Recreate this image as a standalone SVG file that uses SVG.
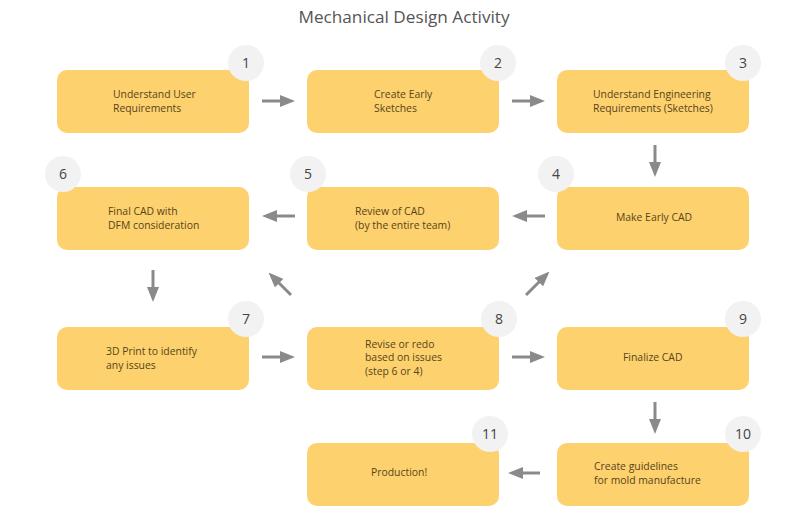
<svg xmlns="http://www.w3.org/2000/svg" width="800" height="523" viewBox="0 0 800 523">
<style>
.box{fill:#fdd16e;}
.num{fill:#f2f2f2;}
.t{font-family:"Open Sans","Noto Sans",sans-serif;font-size:10.4px;font-weight:500;fill:#574519;}
.n{font-family:"Open Sans","Noto Sans",sans-serif;font-size:14px;fill:#444;text-anchor:middle;}
.title{font-family:"Open Sans","Noto Sans",sans-serif;font-size:17.2px;fill:#555;text-anchor:middle;}
.c{stroke:#8a8a8a;stroke-width:3;fill:none;marker-end:url(#ah);}
</style>
<defs>
<marker id="ah" markerWidth="5" markerHeight="4" refX="1" refY="2" orient="auto" markerUnits="strokeWidth">
<path d="M0,0 L5,2 L0,4 z" fill="#8a8a8a"/>
</marker>
</defs>
<rect width="800" height="523" fill="#fff"/>
<text class="title" x="404" y="23">Mechanical Design Activity</text>
<g id="connectors">
<line class="c" x1="262" y1="101" x2="283" y2="101"/>
<line class="c" x1="512" y1="101" x2="533" y2="101"/>
<line class="c" x1="655" y1="145" x2="655" y2="165"/>
<line class="c" x1="545" y1="216" x2="524" y2="216"/>
<line class="c" x1="295" y1="216" x2="274" y2="216"/>
<line class="c" x1="153" y1="270" x2="153" y2="290"/>
<line class="c" x1="262" y1="357" x2="283" y2="357"/>
<line class="c" x1="512" y1="357" x2="533" y2="357"/>
<line class="c" x1="291" y1="295" x2="277" y2="281"/>
<line class="c" x1="526" y1="295" x2="541" y2="280"/>
<line class="c" x1="655" y1="402" x2="655" y2="422"/>
<line class="c" x1="540" y1="473" x2="520" y2="473"/>
</g>
<g id="node1"><rect class="box" x="57" y="70" width="192" height="63" rx="10"/><circle class="num" cx="246" cy="63" r="18"/><text class="n" x="246" y="68">1</text><text class="t" x="113" y="98">Understand User</text><text class="t" x="113" y="111.5">Requirements</text></g>
<g id="node2"><rect class="box" x="307" y="70" width="192" height="63" rx="10"/><circle class="num" cx="498" cy="63" r="18"/><text class="n" x="498" y="68">2</text><text class="t" x="374" y="98">Create Early</text><text class="t" x="374" y="111.5">Sketches</text></g>
<g id="node3"><rect class="box" x="557" y="70" width="192" height="63" rx="10"/><circle class="num" cx="743" cy="63" r="18"/><text class="n" x="743" y="68">3</text><text class="t" x="593" y="98">Understand Engineering</text><text class="t" x="593" y="111.5">Requirements (Sketches)</text></g>
<g id="node4"><rect class="box" x="557" y="187" width="192" height="63" rx="10"/><circle class="num" cx="556" cy="174" r="18"/><text class="n" x="556" y="179">4</text><text class="t" x="616" y="221">Make Early CAD</text></g>
<g id="node5"><rect class="box" x="307" y="187" width="192" height="63" rx="10"/><circle class="num" cx="308" cy="174" r="18"/><text class="n" x="308" y="179">5</text><text class="t" x="355" y="215">Review of CAD</text><text class="t" x="355" y="228.5">(by the entire team)</text></g>
<g id="node6"><rect class="box" x="57" y="187" width="192" height="63" rx="10"/><circle class="num" cx="63" cy="174" r="18"/><text class="n" x="63" y="179">6</text><text class="t" x="108" y="215">Final CAD with</text><text class="t" x="108" y="228.5">DFM consideration</text></g>
<g id="node7"><rect class="box" x="57" y="327" width="192" height="63" rx="10"/><circle class="num" cx="246" cy="319" r="18"/><text class="n" x="246" y="324">7</text><text class="t" x="106" y="355">3D Print to identify</text><text class="t" x="106" y="368.5">any issues</text></g>
<g id="node8"><rect class="box" x="307" y="327" width="192" height="63" rx="10"/><circle class="num" cx="499" cy="319" r="18"/><text class="n" x="499" y="324">8</text><text class="t" x="365" y="347.5">Revise or redo</text><text class="t" x="365" y="361">based on issues</text><text class="t" x="365" y="374.5">(step 6 or 4)</text></g>
<g id="node9"><rect class="box" x="557" y="327" width="192" height="63" rx="10"/><circle class="num" cx="743" cy="319" r="18"/><text class="n" x="743" y="324">9</text><text class="t" x="623" y="361">Finalize CAD</text></g>
<g id="node10"><rect class="box" x="557" y="443" width="192" height="63" rx="10"/><circle class="num" cx="743" cy="434" r="18"/><text class="n" x="743" y="439">10</text><text class="t" x="594" y="470">Create guidelines</text><text class="t" x="594" y="483.5">for mold manufacture</text></g>
<g id="node11"><rect class="box" x="307" y="443" width="192" height="63" rx="10"/><circle class="num" cx="490" cy="434" r="18"/><text class="n" x="490" y="439">11</text><text class="t" x="371" y="476">Production!</text></g>
</svg>
